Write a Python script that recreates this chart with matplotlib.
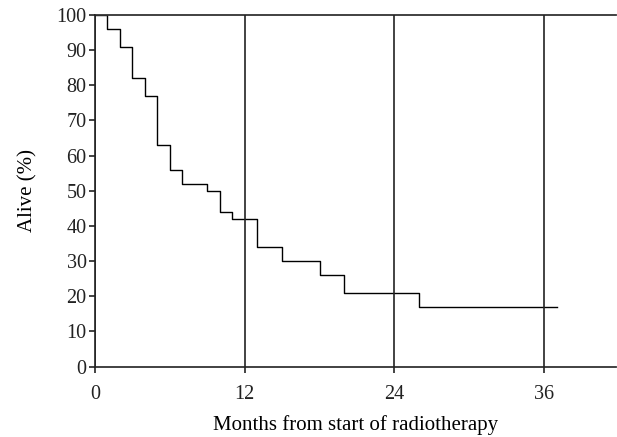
import matplotlib
matplotlib.use("Agg")
import matplotlib.pyplot as plt

# Kaplan-Meier style survival
months = [0, 1, 2, 3, 4, 5, 6, 7, 9, 10, 11, 13, 15, 18, 20, 26, 37]
alive = [100, 96, 91, 82, 77, 63, 56, 52, 50, 44, 42, 34, 30, 26, 21, 17, 17]
xticks = [0, 12, 24, 36]
yticks = list(range(0, 101, 10))

plt.rcParams['font.family'] = ['Liberation Serif', 'DejaVu Serif']

fig = plt.figure(figsize=(6.17, 4.37), dpi=100)
ax = fig.add_axes([0.154, 0.161, 0.845, 0.805])

ax.step(months, alive, where='post', color='black', linewidth=1.0)

ax.set_xlim(0, 41.8)
ax.set_ylim(0, 100)
ax.set_xticks(xticks)
ax.set_yticks(yticks)
ax.tick_params(labelsize=14.5, direction='out', length=4.5, width=1.2, colors='#222222')
ax.tick_params(axis='y', pad=1.5)
ax.tick_params(axis='x', pad=9)

# vertical grid at the year marks
ax.grid(axis='x', color='#222222', linewidth=1.2)
ax.set_axisbelow(False)

ax.spines['right'].set_visible(False)
for s in ['left', 'bottom', 'top']:
    ax.spines[s].set_linewidth(1.3)
    ax.spines[s].set_color('#333333')

ax.set_xlabel('Months from start of radiotherapy', fontsize=15, labelpad=8)
ax.set_ylabel('Alive (%)', fontsize=15, labelpad=14)

fig.savefig('out.png', dpi=100)
